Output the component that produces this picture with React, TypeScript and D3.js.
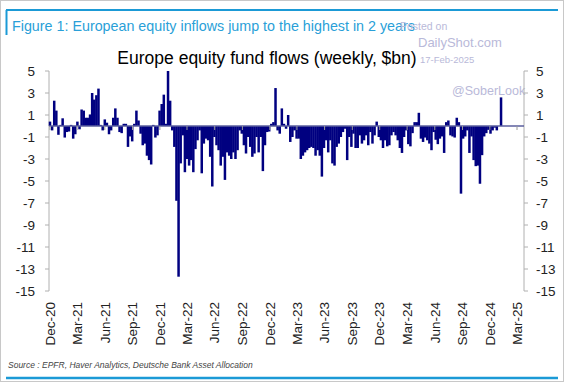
import React from "react";
import * as d3 from "d3";

// Weekly Europe equity fund flows ($bn), starting first week of Dec 2020
const weeklyFlows: number[] = [
  0.4, -0.4, 2.3, 1.4, -0.8, 0.1, 0.7, -1.05, -0.55, -0.5, 0.1, -1.15, -0.75, 0.4, -0.3, 1.5, 1.4, 0.75, 0.75, 1.05,
  3.0, 2.4, 2.8, 3.4, 0.1, -0.4, 0.6, 0.3, -0.75, -0.4, 0.75, 1.6, 0.75, -0.55, -0.65, 0.2, 0.2, -1.9, -0.95, -1.4,
  0.2, 1.4, 0.5, -0.7, -1.75, -1.6, -2.7, -3.1, -3.5, 0.1, -1.05, -0.85, 1.4, 2.0, 2.85, 0.2, 5.0, 2.3, -0.4, -1.9,
  -6.8, -13.7,
  -3.4, -0.85, -4.2, -3.0, -3.6, -3.1, -4.2, -2.1, -1.3, -0.4, -4.3, -1.6, -1.15, -1.3, -2.8, -5.5, -1.0, -1.75, -2.2, -3.6,
  -2.8, -4.9, -2.4, -2.7, -3.0, -2.4, -3.0, -2.2, -0.4, -0.7,
  -1.75, -2.5, -1.0, -1.9, -2.8, -2.5, -1.0, -2.4, -1.0, -4.1, -1.75, -0.55, -0.5, 0.2, 0.35, 3.45, -0.4, -0.7, 1.6, 0.2,
  -0.25, 1.0, -1.45, -1.0, -0.4, -1.15, -1.15, -3.0, -2.7, -2.4, -2.2, -2.0,
  -1.9, -2.0, -2.7, -2.2, -2.7, -4.6, -2.0, -1.3, -2.4, -1.3, -3.4, -3.6, -1.9, -1.6, -1.0, -0.55, -0.25, -3.1, -1.0, -1.9,
  -0.7, -2.0, -2.0, -0.85, -1.6, -1.3, -0.85, -1.75, -0.55, -1.6, -0.85, 0.4,
  -1.0, -1.3, -2.0, -1.3, -1.85, -1.75, -0.85, -0.55, -0.85, -1.3, -2.0, -2.45, -1.0, -0.4, -1.65, -1.85, -0.65, 0.35, 0.35, 1.2,
  -1.15, -1.45, -1.05, -1.3, -1.6, -2.2, -0.55, -1.25, -1.65, -1.15, -0.95, -2.45, 0.35, 0.5, -0.85, -0.95, -1.05, 0.75, 0.35, -6.15,
  -1.15, -0.95, -0.4, -2.45, -0.95, -3.1, -3.65, -3.6, -5.25, -2.65, -0.95, -0.65, -0.35, -0.7, -0.4, -0.15, -0.4, 0.0, 2.6,
];

const firstWeek = new Date(2020, 11, 1);

const yTicks: number[] = [5, 3, 1, -1, -3, -5, -7, -9, -11, -13, -15];

const xTickLabels: string[] = [
  "Dec-20", "Mar-21", "Jun-21", "Sep-21", "Dec-21", "Mar-22", "Jun-22", "Sep-22", "Dec-22",
  "Mar-23", "Jun-23", "Sep-23", "Dec-23", "Mar-24", "Jun-24", "Sep-24", "Dec-24", "Mar-25",
];

const FONT = "'Liberation Sans', Arial, sans-serif";

export default function App() {
  const W = 564;
  const H = 382;
  const x = d3.scaleTime().domain([new Date(2020, 11, 1), new Date(2025, 2, 1)]).range([50, 517]);
  const y = d3.scaleLinear().domain([-15, 5]).range([291, 71]);
  const left = 49;
  const right = 524;
  const barW = 2.5;

  const bars = weeklyFlows.map((v, i) => {
    const d = d3.timeDay.offset(firstWeek, i * 7);
    return { d, v };
  });

  const tickDates = xTickLabels.map((_, i) => d3.timeMonth.offset(new Date(2020, 11, 1), i * 3));

  return (
    <svg width={W} height={H} style={{ position: "absolute", left: 0, top: 0, background: "#fff" }}>
      <rect x={0.5} y={0.5} width={W - 1} height={H - 1} fill="#fff" stroke="#c8c8c8" />
      {/* header */}
      <line x1={6} x2={558} y1={10} y2={10} stroke="#1b9ad6" strokeWidth={2} />
      <line x1={6.5} x2={6.5} y1={10} y2={35} stroke="#1b9ad6" strokeWidth={2} />
      <text x={12} y={31} fontFamily={FONT} fontSize={14.3} fill="#2a9fd8">
        Figure 1: European equity inflows jump to the highest in 2 years
      </text>
      {/* watermarks */}
      <g fontFamily={FONT} fill="#b9b9d9">
        <text x={400} y={30} fontSize={10.5}>Posted on</text>
        <text x={418} y={47} fontSize={13}>DailyShot.com</text>
        <text x={420} y={63} fontSize={9.5}>17-Feb-2025</text>
        <text x={452} y={95} fontSize={12.5}>@SoberLook</text>
      </g>
      <text x={267} y={64} textAnchor="middle" fontFamily={FONT} fontSize={17.5} fill="#000">
        Europe equity fund flows (weekly, $bn)
      </text>

      {/* axes */}
      <line x1={left} x2={left} y1={y(5)} y2={y(-15)} stroke="#b0b0b0" />
      <line x1={right} x2={right} y1={y(5)} y2={y(-15)} stroke="#b0b0b0" />
      {yTicks.map((t) => (
        <g key={t}>
          <line x1={left - 4} x2={left} y1={y(t)} y2={y(t)} stroke="#b0b0b0" />
          <line x1={right} x2={right + 4} y1={y(t)} y2={y(t)} stroke="#b0b0b0" />
          <text x={35} y={y(t)} dy="0.35em" textAnchor="end" fontFamily={FONT} fontSize={13.5} fill="#222">
            {t}
          </text>
          <text x={536} y={y(t)} dy="0.35em" textAnchor="start" fontFamily={FONT} fontSize={13.5} fill="#222">
            {t}
          </text>
        </g>
      ))}

      {/* bars */}
      {bars.map((b, i) => (
        <rect
          key={i}
          x={x(b.d) - barW / 2}
          y={Math.min(y(b.v), y(0))}
          width={barW}
          height={Math.max(Math.abs(y(b.v) - y(0)), 0.01)}
          fill="#000080"
        />
      ))}

      {/* zero line */}
      <line x1={left} x2={right} y1={y(0)} y2={y(0)} stroke="#5a5e9e" strokeWidth={1.5} />
      {tickDates.map((d, i) => (
        <line key={i} x1={x(d)} x2={x(d)} y1={y(0)} y2={y(0) + 4} stroke="#9a9a9a" />
      ))}

      {/* x labels */}
      {tickDates.map((d, i) => (
        <text
          key={i}
          transform={`translate(${x(d)},302) rotate(-90)`}
          textAnchor="end"
          dy="0.35em"
          fontFamily={FONT}
          fontSize={13.5}
          fill="#222"
        >
          {xTickLabels[i]}
        </text>
      ))}

      <text x={8} y={368} fontFamily={FONT} fontSize={8.5} fontStyle="italic" fill="#444">
        Source : EPFR, Haver Analytics, Deutsche Bank Asset Allocation
      </text>
      <line x1={6} x2={558} y1={378} y2={378} stroke="#1b9ad6" strokeWidth={2.5} />
    </svg>
  );
}
